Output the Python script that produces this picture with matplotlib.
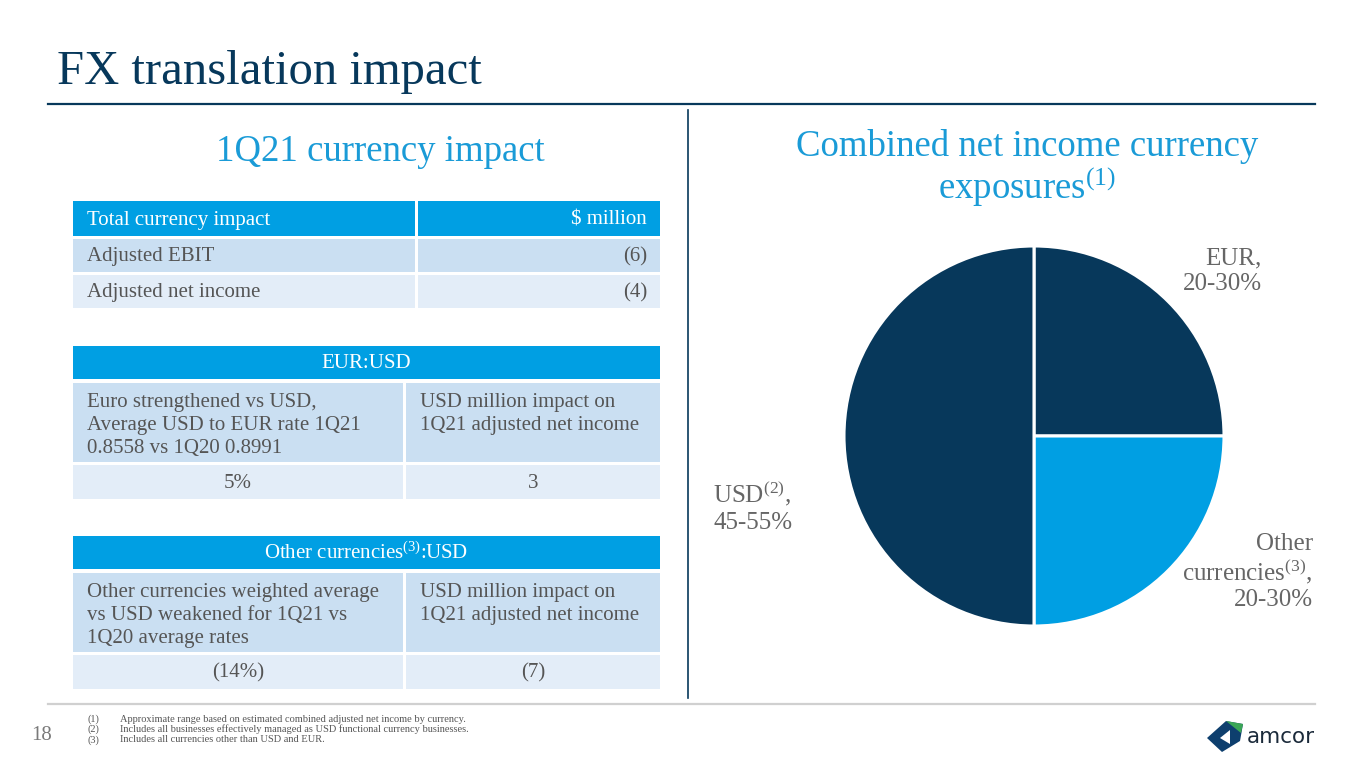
import matplotlib
matplotlib.use("Agg")
import matplotlib.pyplot as plt
from matplotlib.patches import Rectangle, Polygon

plt.rcParams["font.family"] = ["Liberation Serif", "DejaVu Serif"]

# --- data ---------------------------------------------------------------
title = "FX translation impact"
left_heading = "1Q21 currency impact"
right_heading = ["Combined net income currency", "exposures$\\mathregular{^{(1)}}$"]

total_header = ["Total currency impact", "$ million"]
total_rows = ["Adjusted EBIT", "Adjusted net income"]
total_values = ["(6)", "(4)"]

eur_header = "EUR:USD"
eur_desc = ["Euro strengthened vs USD,\nAverage USD to EUR rate 1Q21\n0.8558 vs 1Q20 0.8991",
            "USD million impact on\n1Q21 adjusted net income"]
eur_values = ["5%", "3"]

other_header = "Other currencies$\\mathregular{^{(3)}}$:USD"
other_desc = ["Other currencies weighted average\nvs USD weakened for 1Q21 vs\n1Q20 average rates",
              "USD million impact on\n1Q21 adjusted net income"]
other_values = ["(14%)", "(7)"]

pie_labels = ["EUR,\n20-30%", "Other\ncurrencies$\\mathregular{^{(3)}}$,\n20-30%",
              "USD$\\mathregular{^{(2)}}$,\n45-55%"]
pie_shares = [25, 25, 50]

footnotes = ["Approximate range based on estimated combined adjusted net income by currency.",
             "Includes all businesses effectively managed as USD functional currency businesses.",
             "Includes all currencies other than USD and EUR."]
page_no = "18"

# --- colours ------------------------------------------------------------
NAVY = "#07385b"
BRIGHT = "#009fe3"
HEAD_BLUE = "#1a9bd7"
ROW_DARK = "#cadff2"
ROW_LIGHT = "#e3edf8"
GREY_TXT = "#555555"

fig = plt.figure(figsize=(13.65, 7.68), dpi=100)
ax = fig.add_axes([0, 0, 1, 1])
ax.set_xlim(0, 1365)
ax.set_ylim(768, 0)
ax.axis("off")

# title and rules
ax.text(57, 84, title, fontsize=35, color=NAVY, ha="left", va="baseline")
ax.plot([48, 1315], [104, 104], color=NAVY, lw=1.6)
ax.plot([688, 688], [110, 698], color=NAVY, lw=1.2)
ax.plot([48, 1315], [704, 704], color="#d0d0d0", lw=1.6)

ax.text(380, 152, left_heading, fontsize=26.5, color=HEAD_BLUE, ha="center", va="center")
ax.text(1027, 147, right_heading[0], fontsize=26.5, color=HEAD_BLUE, ha="center", va="center")
ax.text(1027, 187, right_heading[1], fontsize=26.5, color=HEAD_BLUE, ha="center", va="center")


def box(x0, y0, x1, y1, color):
    ax.add_patch(Rectangle((x0, y0), x1 - x0, y1 - y0, facecolor=color, edgecolor="none"))


X0, X1 = 73, 660
FS = 15

# table 1
box(X0, 201, 415, 236, BRIGHT)
box(418, 201, X1, 236, BRIGHT)
ax.text(87, 220, total_header[0], fontsize=FS, color="white", va="center")
ax.text(647, 220, total_header[1], fontsize=FS, color="white", va="center", ha="right")
for i, (name, val) in enumerate(zip(total_rows, total_values)):
    y0 = 239 + i * 36
    col = ROW_DARK if i == 0 else ROW_LIGHT
    box(X0, y0, 415, y0 + 33, col)
    box(418, y0, X1, y0 + 33, col)
    ax.text(87, y0 + 18, name, fontsize=FS, color=GREY_TXT, va="center")
    ax.text(647, y0 + 18, val, fontsize=FS, color=GREY_TXT, va="center", ha="right")


def fx_table(top, header, desc, values):
    box(X0, top, X1, top + 33, BRIGHT)
    ax.text((X0 + X1) / 2, top + 17, header, fontsize=FS, color="white",
            ha="center", va="center")
    r1 = top + 37
    box(X0, r1, 403, r1 + 79, ROW_DARK)
    box(406, r1, X1, r1 + 79, ROW_DARK)
    ax.text(87, r1 + 10, desc[0], fontsize=FS, color=GREY_TXT, va="top", linespacing=1.3)
    ax.text(420, r1 + 10, desc[1], fontsize=FS, color=GREY_TXT, va="top", linespacing=1.3)
    r2 = r1 + 82
    box(X0, r2, 403, r2 + 34, ROW_LIGHT)
    box(406, r2, X1, r2 + 34, ROW_LIGHT)
    ax.text((X0 + 403) / 2, r2 + 18, values[0], fontsize=FS, color=GREY_TXT,
            ha="center", va="center")
    ax.text((406 + X1) / 2, r2 + 18, values[1], fontsize=FS, color=GREY_TXT,
            ha="center", va="center")


fx_table(346, eur_header, eur_desc, eur_values)
fx_table(536, other_header, other_desc, other_values)

# pie
pax = fig.add_axes([844 / 1365, (768 - 626) / 768, 380 / 1365, 380 / 768])
pax.pie(pie_shares, colors=[NAVY, BRIGHT, NAVY], startangle=90, counterclock=False,
        wedgeprops=dict(edgecolor="white", linewidth=2.2))
pax.set_xlim(-1, 1)
pax.set_ylim(-1, 1)
pax.set_aspect("auto")

LBL = "#666666"
ax.text(1262, 271, pie_labels[0], fontsize=18, color=LBL, ha="right", va="center",
        linespacing=1.2)
ax.text(1313, 572, pie_labels[1], fontsize=18, color=LBL, ha="right", va="center",
        linespacing=1.15)
ax.text(713, 507, pie_labels[2], fontsize=18, color=LBL, ha="left", va="center",
        linespacing=1.2)

# footer
ax.text(31, 736, page_no, fontsize=15, color="#7a7a7a", va="center")
for i, note in enumerate(footnotes):
    y = 719 + i * 10.5
    ax.text(88, y, f"({i + 1})", fontsize=7.5, color="#555555", va="center")
    ax.text(120, y, note, fontsize=7.5, color="#555555", va="center")

# logo
ax.add_patch(Polygon([[1207, 738], [1226, 721], [1243, 724], [1240, 741], [1222, 752]],
                     closed=True, facecolor="#0e3f6e", edgecolor="none"))
ax.add_patch(Polygon([[1226, 721], [1243, 724], [1241, 733]],
                     closed=True, facecolor="#3aa655", edgecolor="none"))
ax.add_patch(Polygon([[1220, 738], [1230, 730], [1230, 744]],
                     closed=True, facecolor="white", edgecolor="none"))
ax.text(1247, 737, "amcor", fontsize=15.5, color="#1b2a3a", family="DejaVu Sans",
        ha="left", va="center")

fig.savefig("out.png", dpi=100, facecolor="white")
